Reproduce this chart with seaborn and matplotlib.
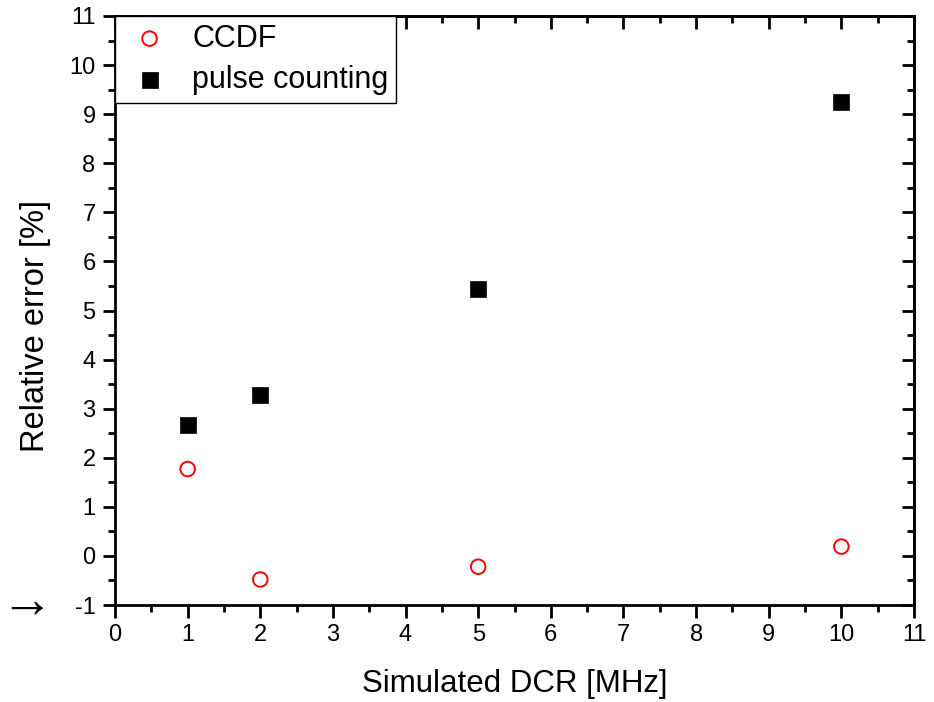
import matplotlib
matplotlib.use("Agg")
import matplotlib.pyplot as plt
import seaborn as sns
import pandas as pd

dcr = [1, 2, 5, 10]
ccdf = [1.77, -0.48, -0.22, 0.19]
pulse = [2.67, 3.28, 5.44, 9.25]
xticks = list(range(0, 12))
yticks = list(range(-1, 12))

sns.set_style("white")
plt.rcParams['font.family'] = ['Liberation Sans', 'DejaVu Sans']
plt.rcParams['axes.unicode_minus'] = False
plt.rcParams['text.color'] = 'black'
plt.rcParams['axes.labelcolor'] = 'black'
plt.rcParams['xtick.color'] = 'black'
plt.rcParams['ytick.color'] = 'black'

df = pd.DataFrame({
    "x": dcr * 2,
    "y": ccdf + pulse,
    "series": ["CCDF"] * len(dcr) + ["pulse counting"] * len(dcr),
})

fig = plt.figure(figsize=(9.34, 7.02), dpi=100)
ax = fig.add_axes([115/934, 1 - 605/702, (914-115)/934, (605-16)/702])

sns.scatterplot(data=df[df.series == "CCDF"], x="x", y="y", ax=ax,
                marker="o", s=110, facecolor="none", edgecolor="#ff0000",
                linewidth=1.4, label="CCDF")
sns.scatterplot(data=df[df.series == "pulse counting"], x="x", y="y", ax=ax,
                marker="s", s=130, color="black", edgecolor="black",
                linewidth=0.5, label="pulse counting")

ax.set_xlim(0, 11)
ax.set_ylim(-1, 11)
ax.set_xticks(xticks)
ax.set_yticks(yticks)
ax.set_xticks([v + 0.5 for v in xticks[:-1]], minor=True)
ax.set_yticks([v + 0.5 for v in yticks[:-1]], minor=True)
ax.tick_params(axis="both", which="both", bottom=True, left=True, top=False, right=False)
ax.tick_params(axis="both", which="major", direction="out", length=9, width=2,
               labelsize=17, labelcolor="black", color="black", pad=5)
ax.tick_params(axis="both", which="minor", direction="out", length=5, width=2,
               color="black")
for s in ax.spines.values():
    s.set_linewidth(2)
    s.set_color("black")

# top and right inward ticks
sx = ax.secondary_xaxis("top")
sx.set_xticks(xticks)
sx.set_xticks([v + 0.5 for v in xticks[:-1]], minor=True)
sx.tick_params(which="both", top=True, labeltop=False)
sx.tick_params(which="major", direction="in", length=9, width=2, color="black")
sx.tick_params(which="minor", direction="in", length=5, width=2, color="black")
sx.spines["top"].set_linewidth(2)
sy = ax.secondary_yaxis("right")
sy.set_yticks(yticks)
sy.set_yticks([v + 0.5 for v in yticks[:-1]], minor=True)
sy.tick_params(which="both", right=True, labelright=False)
sy.tick_params(which="major", direction="in", length=9, width=2, color="black")
sy.tick_params(which="minor", direction="in", length=5, width=2, color="black")
sy.spines["right"].set_linewidth(2)

ax.set_xlabel("Simulated DCR [MHz]", fontsize=22.5, labelpad=16)
ax.set_ylabel("Relative error [%]", fontsize=23.5)
ax.yaxis.set_label_coords(-(115 - 51) / 799, (605 - 326) / 589)

leg = ax.legend(loc="upper left", fontsize=22, frameon=True, fancybox=False,
                framealpha=1, borderaxespad=0, handletextpad=0.52, borderpad=0.25,
                labelspacing=0.38, handlelength=1.76)
leg.get_frame().set_edgecolor("black")
leg.get_frame().set_linewidth(1)
leg.set_zorder(10)

fig.text(0.0, 1 - 603/702, "\u2192", fontsize=38, va="center", ha="left")

fig.savefig("out.png", dpi=100)
